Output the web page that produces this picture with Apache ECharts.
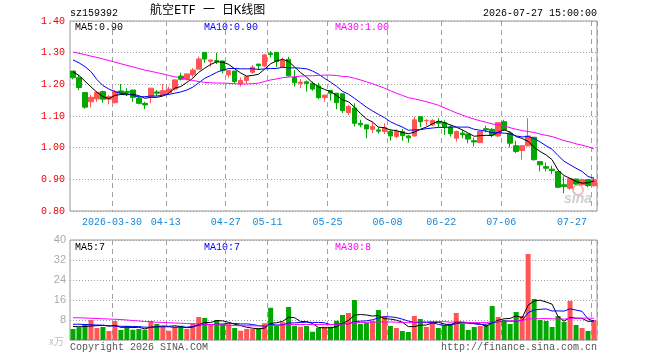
<!DOCTYPE html>
<html>
<head>
<meta charset="utf-8">
<title>航空ETF 日K线图</title>
<script src="https://cdn.jsdelivr.net/npm/echarts@6/dist/echarts.min.js"></script>
<style>
  html, body { margin: 0; padding: 0; background: #fff; }
  #chart { width: 660px; height: 360px; }
</style>
</head>
<body>
<div id="chart"></div>
<script>
// trading days shown on the chart
const dates = [
  '2026-03-19', '2026-03-20', '2026-03-23', '2026-03-24', '2026-03-25', '2026-03-26', '2026-03-27', '2026-03-30', '2026-03-31', '2026-04-01',
  '2026-04-02', '2026-04-03', '2026-04-07', '2026-04-08', '2026-04-09', '2026-04-10', '2026-04-13', '2026-04-14', '2026-04-15', '2026-04-16',
  '2026-04-17', '2026-04-20', '2026-04-21', '2026-04-22', '2026-04-23', '2026-04-24', '2026-04-27', '2026-04-28', '2026-04-29', '2026-04-30',
  '2026-05-06', '2026-05-07', '2026-05-08', '2026-05-11', '2026-05-12', '2026-05-13', '2026-05-14', '2026-05-15', '2026-05-18', '2026-05-19',
  '2026-05-20', '2026-05-21', '2026-05-22', '2026-05-25', '2026-05-26', '2026-05-27', '2026-05-28', '2026-05-29', '2026-06-01', '2026-06-02',
  '2026-06-03', '2026-06-04', '2026-06-05', '2026-06-08', '2026-06-09', '2026-06-10', '2026-06-11', '2026-06-12', '2026-06-15', '2026-06-16',
  '2026-06-17', '2026-06-18', '2026-06-22', '2026-06-23', '2026-06-24', '2026-06-25', '2026-06-26', '2026-06-29', '2026-06-30', '2026-07-01',
  '2026-07-02', '2026-07-03', '2026-07-06', '2026-07-07', '2026-07-08', '2026-07-09', '2026-07-10', '2026-07-13', '2026-07-14', '2026-07-15',
  '2026-07-16', '2026-07-17', '2026-07-20', '2026-07-21', '2026-07-22', '2026-07-23', '2026-07-24', '2026-07-27'
]
const labelDates = ['2026-03-30', '2026-04-13', '2026-04-27', '2026-05-11', '2026-05-25', '2026-06-08', '2026-06-22', '2026-07-06', '2026-07-27']

const open = [
  1.242, 1.221, 1.174, 1.145, 1.154, 1.177, 1.153, 1.142, 1.179, 1.177,
  1.182, 1.156, 1.140, 1.163, 1.176, 1.167, 1.174, 1.185, 1.226, 1.216,
  1.230, 1.248, 1.301, 1.273, 1.275, 1.274, 1.230, 1.242, 1.202, 1.212,
  1.238, 1.264, 1.258, 1.298, 1.301, 1.254, 1.279, 1.222, 1.203, 1.208,
  1.203, 1.195, 1.158, 1.180, 1.172, 1.170, 1.111, 1.125, 1.077, 1.072,
  1.058, 1.056, 1.051, 1.051, 1.035, 1.051, 1.037, 1.037, 1.098, 1.085,
  1.072, 1.082, 1.079, 1.065, 1.030, 1.046, 1.043, 1.022, 1.016, 1.060,
  1.058, 1.037, 1.082, 1.046, 1.006, 0.991, 1.006, 1.033, 0.956, 0.940,
  0.932, 0.925, 0.883, 0.872, 0.901, 0.883, 0.899, 0.880
]
const close = [
  1.221, 1.190, 1.128, 1.159, 1.175, 1.153, 1.161, 1.177, 1.172, 1.174,
  1.159, 1.140, 1.135, 1.188, 1.172, 1.180, 1.185, 1.214, 1.216, 1.233,
  1.245, 1.280, 1.280, 1.277, 1.272, 1.243, 1.243, 1.209, 1.212, 1.224,
  1.254, 1.259, 1.293, 1.294, 1.272, 1.275, 1.227, 1.205, 1.207, 1.203,
  1.185, 1.158, 1.166, 1.172, 1.142, 1.117, 1.130, 1.077, 1.072, 1.059,
  1.067, 1.052, 1.064, 1.037, 1.051, 1.038, 1.031, 1.088, 1.082, 1.086,
  1.086, 1.077, 1.065, 1.044, 1.051, 1.041, 1.027, 1.018, 1.051, 1.056,
  1.040, 1.079, 1.056, 1.014, 0.988, 1.006, 1.037, 0.962, 0.946, 0.935,
  0.928, 0.875, 0.877, 0.902, 0.885, 0.899, 0.880, 0.899
]
const low = [
  1.216, 1.182, 1.123, 1.127, 1.145, 1.142, 1.137, 1.140, 1.167, 1.163,
  1.145, 1.137, 1.122, 1.140, 1.163, 1.166, 1.170, 1.180, 1.212, 1.212,
  1.222, 1.248, 1.268, 1.256, 1.264, 1.235, 1.221, 1.203, 1.193, 1.203,
  1.233, 1.245, 1.254, 1.285, 1.254, 1.252, 1.224, 1.193, 1.188, 1.177,
  1.180, 1.153, 1.145, 1.149, 1.121, 1.109, 1.103, 1.067, 1.065, 1.030,
  1.046, 1.044, 1.043, 1.022, 1.030, 1.022, 1.016, 1.035, 1.065, 1.069,
  1.069, 1.065, 1.040, 1.035, 1.019, 1.030, 1.014, 1.004, 1.016, 1.048,
  1.033, 1.033, 1.054, 1.001, 0.983, 0.962, 1.004, 0.959, 0.925, 0.925,
  0.917, 0.872, 0.856, 0.867, 0.883, 0.880, 0.875, 0.877
]
const high = [
  1.242, 1.230, 1.174, 1.167, 1.177, 1.180, 1.167, 1.182, 1.201, 1.188,
  1.182, 1.163, 1.145, 1.188, 1.182, 1.201, 1.193, 1.216, 1.237, 1.233,
  1.251, 1.287, 1.301, 1.277, 1.300, 1.274, 1.245, 1.242, 1.221, 1.224,
  1.261, 1.264, 1.296, 1.305, 1.301, 1.285, 1.287, 1.245, 1.216, 1.212,
  1.209, 1.205, 1.166, 1.182, 1.172, 1.170, 1.135, 1.140, 1.088, 1.072,
  1.080, 1.065, 1.077, 1.058, 1.058, 1.059, 1.040, 1.098, 1.098, 1.090,
  1.090, 1.093, 1.086, 1.072, 1.054, 1.056, 1.043, 1.032, 1.051, 1.069,
  1.062, 1.079, 1.088, 1.051, 1.022, 1.006, 1.093, 1.033, 0.958, 0.953,
  0.943, 0.925, 0.909, 0.902, 0.902, 0.902, 0.901, 0.907
]

const ma5 = [
  1.240, 1.228, 1.210, 1.192, 1.175, 1.161, 1.155, 1.165, 1.168, 1.167,
  1.169, 1.164, 1.156, 1.159, 1.159, 1.163, 1.172, 1.188, 1.193, 1.206,
  1.219, 1.238, 1.251, 1.263, 1.271, 1.270, 1.263, 1.249, 1.236, 1.226,
  1.228, 1.232, 1.248, 1.265, 1.274, 1.279, 1.272, 1.255, 1.237, 1.223,
  1.205, 1.192, 1.184, 1.177, 1.165, 1.151, 1.145, 1.128, 1.108, 1.091,
  1.081, 1.065, 1.063, 1.056, 1.054, 1.048, 1.044, 1.049, 1.058, 1.065,
  1.075, 1.084, 1.079, 1.072, 1.065, 1.056, 1.046, 1.036, 1.038, 1.039,
  1.038, 1.049, 1.056, 1.049, 1.035, 1.029, 1.020, 1.001, 0.988, 0.977,
  0.962, 0.929, 0.912, 0.903, 0.893, 0.888, 0.889, 0.895
]
const ma10 = [
  1.277, 1.268, 1.256, 1.240, 1.215, 1.196, 1.185, 1.177, 1.172, 1.171,
  1.165, 1.160, 1.161, 1.163, 1.163, 1.166, 1.168, 1.172, 1.176, 1.182,
  1.191, 1.205, 1.219, 1.228, 1.238, 1.245, 1.250, 1.250, 1.249, 1.249,
  1.249, 1.247, 1.249, 1.250, 1.250, 1.254, 1.252, 1.252, 1.251, 1.249,
  1.242, 1.232, 1.219, 1.207, 1.194, 1.178, 1.169, 1.156, 1.142, 1.128,
  1.116, 1.105, 1.095, 1.082, 1.073, 1.065, 1.055, 1.056, 1.057, 1.060,
  1.062, 1.064, 1.064, 1.065, 1.065, 1.065, 1.065, 1.058, 1.055, 1.052,
  1.047, 1.047, 1.046, 1.043, 1.037, 1.034, 1.035, 1.029, 1.018, 1.006,
  0.995, 0.975, 0.957, 0.946, 0.935, 0.925, 0.909, 0.903
]
const ma30 = [
  1.302, 1.298, 1.294, 1.289, 1.285, 1.280, 1.275, 1.270, 1.265, 1.260,
  1.255, 1.250, 1.245, 1.241, 1.237, 1.233, 1.228, 1.224, 1.220, 1.216,
  1.212, 1.209, 1.206, 1.205, 1.204, 1.204, 1.203, 1.202, 1.201, 1.201,
  1.202, 1.204, 1.209, 1.214, 1.217, 1.221, 1.223, 1.224, 1.226, 1.227,
  1.227, 1.228, 1.229, 1.229, 1.228, 1.225, 1.224, 1.219, 1.214, 1.208,
  1.202, 1.195, 1.188, 1.180, 1.172, 1.165, 1.158, 1.154, 1.150, 1.145,
  1.140, 1.134, 1.126, 1.118, 1.110, 1.103, 1.096, 1.090, 1.085, 1.080,
  1.075, 1.072, 1.069, 1.063, 1.058, 1.054, 1.051, 1.048, 1.043, 1.039,
  1.035, 1.029, 1.022, 1.018, 1.012, 1.008, 1.003, 0.996
]

// volume, unit: 万
const volume = [
  4.4, 5.1, 6.3, 8.0, 4.8, 5.2, 3.6, 7.6, 4.0, 5.5,
  4.1, 4.4, 4.1, 7.6, 6.4, 5.5, 3.7, 5.3, 5.7, 4.4,
  6.7, 9.2, 8.8, 6.0, 8.0, 6.3, 6.3, 4.8, 3.7, 4.4,
  4.4, 4.8, 6.7, 12.9, 5.7, 7.1, 13.2, 5.7, 5.3, 5.6,
  3.3, 4.9, 5.3, 5.3, 7.7, 10.0, 10.8, 16.0, 6.4, 6.9,
  7.7, 12.0, 9.6, 5.6, 4.8, 3.6, 3.2, 9.6, 8.4, 5.2,
  7.6, 4.8, 6.0, 6.5, 10.8, 6.5, 4.0, 5.2, 5.6, 6.0,
  13.6, 9.2, 8.0, 6.4, 11.2, 9.6, 34.4, 16.4, 8.0, 7.6,
  5.2, 9.6, 7.2, 15.6, 6.0, 4.8, 3.6, 8.0
]
const volMa5 = [
  5.4, 5.3, 5.4, 5.6, 5.72, 5.88, 5.58, 5.84, 5.04, 5.18,
  4.96, 5.12, 4.42, 5.14, 5.32, 5.60, 5.46, 5.70, 5.32, 4.92,
  5.16, 6.26, 6.96, 7.02, 7.74, 7.66, 7.08, 6.28, 5.82, 5.10,
  4.72, 4.42, 4.80, 6.64, 6.90, 7.44, 9.12, 8.92, 7.40, 7.38,
  6.62, 4.96, 4.88, 4.88, 5.30, 6.64, 7.82, 9.96, 10.18, 10.02,
  9.56, 9.80, 8.52, 8.36, 7.94, 7.12, 5.36, 5.36, 5.92, 6.00,
  6.80, 7.12, 6.40, 6.02, 7.14, 6.92, 6.76, 6.60, 6.42, 5.46,
  6.88, 7.92, 8.48, 8.64, 9.68, 8.88, 13.92, 15.60, 15.92, 15.20,
  14.32, 9.36, 7.52, 9.04, 8.72, 8.64, 7.44, 7.60
]
const volMa10 = [
  6.3, 6.3, 6.2, 6.1, 6.0, 5.9, 5.7, 5.6, 5.5, 5.45,
  5.42, 5.35, 5.13, 5.09, 5.25, 5.28, 5.29, 5.06, 5.23, 5.12,
  5.38, 5.86, 6.33, 6.17, 6.33, 6.41, 6.67, 6.62, 6.42, 6.42,
  6.19, 5.75, 5.54, 6.23, 6.00, 6.08, 6.77, 6.86, 7.02, 7.14,
  7.03, 7.04, 6.90, 6.14, 6.34, 6.63, 6.39, 7.42, 7.53, 7.66,
  8.10, 8.81, 9.24, 9.27, 8.98, 8.34, 7.58, 6.94, 7.14, 6.97,
  6.96, 6.24, 5.88, 5.97, 6.57, 6.86, 6.94, 6.50, 6.22, 6.30,
  6.90, 7.34, 7.54, 7.53, 7.57, 7.88, 10.92, 12.04, 12.28, 12.44,
  11.60, 11.64, 11.56, 12.48, 11.96, 11.48, 8.40, 7.56
]
const volMa30 = [
  8.9, 8.9, 8.8, 8.7, 8.6, 8.5, 8.4, 8.3, 8.2, 8.0,
  7.8, 7.6, 7.4, 7.3, 7.1, 7.0, 6.9, 6.8, 6.7, 6.6,
  6.5, 6.4, 6.3, 6.2, 6.1, 6.0, 5.9, 5.8, 5.7, 5.66,
  5.66, 5.65, 5.67, 5.83, 5.86, 5.92, 6.24, 6.18, 6.22, 6.23,
  6.20, 6.22, 6.26, 6.18, 6.22, 6.37, 6.61, 6.97, 6.99, 7.07,
  7.11, 7.20, 7.23, 7.21, 7.11, 7.02, 6.91, 7.07, 7.23, 7.26,
  7.36, 7.36, 7.34, 7.13, 7.30, 7.28, 6.97, 6.95, 6.96, 6.98,
  7.32, 7.46, 7.55, 7.59, 7.71, 7.69, 8.48, 8.49, 8.55, 8.57,
  8.49, 8.41, 8.33, 8.66, 8.70, 8.74, 8.75, 8.70
]

const priceTicks = [0.8, 1.4, 0.1]
const volTicks = [0, 40, 8]
const priceLegend = ['MA5:0.90', 'MA10:0.90', 'MA30:1.00']
const volLegend = ['MA5:7', 'MA10:7', 'MA30:8']

const UP = '#ff5555'
const DOWN = '#00a800'
const MONO = '"Liberation Mono", "DejaVu Sans Mono", monospace'
const GRID_LINE = '#a0a0a0'

const chart = echarts.init(document.getElementById('chart'))

const kData = open.map((o, i) => [o, close[i], low[i], high[i]])

function maLine(name, data, color, axisIndex) {
  return {
    name: name,
    type: 'line',
    data: data,
    xAxisIndex: axisIndex,
    yAxisIndex: axisIndex,
    showSymbol: false,
    symbol: 'none',
    silent: true,
    lineStyle: { color: color, width: 1 },
    z: 5
  }
}

function categoryAxis(gridIndex, showLabel) {
  return {
    type: 'category',
    gridIndex: gridIndex,
    data: dates,
    boundaryGap: true,
    axisLine: { show: false },
    axisTick: { show: false },
    axisLabel: {
      show: showLabel,
      interval: (idx, val) => labelDates.includes(val),
      color: '#1588d8',
      fontFamily: MONO,
      fontSize: 10,
      margin: 6,
      padding: [0, 6, 0, 0],
      formatter: (val) => {
        if (val === labelDates[0]) return val
        if (val === labelDates[labelDates.length - 1]) return '{last|' + val.slice(5) + '}'
        return val.slice(5)
      },
      rich: {
        last: { padding: [0, 38, 0, 0], color: '#1588d8', fontFamily: MONO, fontSize: 10 }
      }
    },
    splitLine: {
      show: true,
      interval: (idx, val) => labelDates.includes(val),
      lineStyle: { color: GRID_LINE, type: [5, 4], width: 1 }
    }
  }
}

function legendText(x, y, text, color) {
  return {
    type: 'text',
    left: x,
    top: y,
    silent: true,
    style: { text: text, fill: color, font: '10px ' + MONO }
  }
}

chart.setOption({
  animation: false,
  backgroundColor: '#fff',
  grid: [
    { left: 70, right: 63, top: 21, height: 190, show: true, borderColor: '#999999', borderWidth: 1 },
    { left: 70, right: 63, top: 240, height: 100, show: true, borderColor: '#999999', borderWidth: 1 }
  ],
  xAxis: [categoryAxis(0, true), categoryAxis(1, false)],
  yAxis: [
    {
      type: 'value',
      gridIndex: 0,
      min: priceTicks[0],
      max: priceTicks[1],
      interval: priceTicks[2],
      axisLine: { show: false },
      axisTick: { show: false },
      axisLabel: {
        color: '#ee0000',
        fontFamily: MONO,
        fontSize: 10,
        margin: 5,
        formatter: (v) => v.toFixed(2)
      },
      splitLine: { lineStyle: { color: GRID_LINE, type: [1, 2] } }
    },
    {
      type: 'value',
      gridIndex: 1,
      min: volTicks[0],
      max: volTicks[1],
      interval: volTicks[2],
      axisLine: { show: false },
      axisTick: { show: false },
      axisLabel: {
        color: '#aaaaaa',
        fontFamily: '"Liberation Sans", Arial, sans-serif',
        fontSize: 11,
        margin: 4,
        formatter: (v) => (v === 0 ? '' : String(v))
      },
      splitLine: { lineStyle: { color: GRID_LINE, type: [1, 2] } }
    }
  ],
  series: [
    {
      name: 'K',
      type: 'candlestick',
      data: kData,
      xAxisIndex: 0,
      yAxisIndex: 0,
      barWidth: 5,
      itemStyle: {
        color: UP,
        color0: DOWN,
        borderColor: UP,
        borderColor0: DOWN,
        borderWidth: 1
      }
    },
    maLine('MA5', ma5, '#000000', 0),
    maLine('MA10', ma10, '#0000ff', 0),
    maLine('MA30', ma30, '#ff00ff', 0),
    {
      name: 'VOL',
      type: 'bar',
      data: volume,
      xAxisIndex: 1,
      yAxisIndex: 1,
      barWidth: 5,
      itemStyle: {
        color: (p) => (close[p.dataIndex] >= open[p.dataIndex] ? UP : DOWN)
      }
    },
    maLine('VMA5', volMa5, '#000000', 1),
    maLine('VMA10', volMa10, '#0000ff', 1),
    maLine('VMA30', volMa30, '#ff00ff', 1)
  ],
  graphic: [
    legendText(70, 8, 'sz159392', '#000'),
    {
      type: 'text',
      left: 150,
      top: 5,
      silent: true,
      style: { text: '航空ETF 一 日K线图', fill: '#000', font: '12px "DejaVu Sans Mono", "Noto Sans CJK SC", sans-serif' }
    },
    {
      type: 'text',
      right: 63,
      top: 8,
      silent: true,
      style: { text: '2026-07-27 15:00:00', fill: '#000', font: '10px ' + MONO }
    },
    legendText(75, 22, priceLegend[0], '#000000'),
    legendText(204, 22, priceLegend[1], '#0000ff'),
    legendText(335, 22, priceLegend[2], '#ff00ff'),
    legendText(75, 242, volLegend[0], '#000000'),
    legendText(204, 242, volLegend[1], '#0000ff'),
    legendText(335, 242, volLegend[2], '#ff00ff'),
    {
      type: 'text',
      left: 49,
      top: 336,
      silent: true,
      style: { text: 'x万', fill: '#c0c0c0', font: '10px "Noto Sans CJK SC", sans-serif' }
    },
    legendText(70, 342, 'Copyright 2026 SINA.COM', '#555555'),
    {
      type: 'text',
      right: 63,
      top: 342,
      silent: true,
      style: { text: 'http://finance.sina.com.cn', fill: '#555555', font: '10px ' + MONO }
    },
    // faint sina watermark in the price pane
    {
      type: 'circle',
      shape: { cx: 578, cy: 190, r: 5 },
      silent: true,
      style: { fill: 'none', stroke: '#f4b8b8', lineWidth: 2 }
    },
    {
      type: 'text',
      left: 564,
      top: 192,
      silent: true,
      style: { text: 'sina', fill: '#cfcfcf', font: 'italic bold 14px "Liberation Sans", sans-serif' }
    }
  ]
})
</script>
</body>
</html>
